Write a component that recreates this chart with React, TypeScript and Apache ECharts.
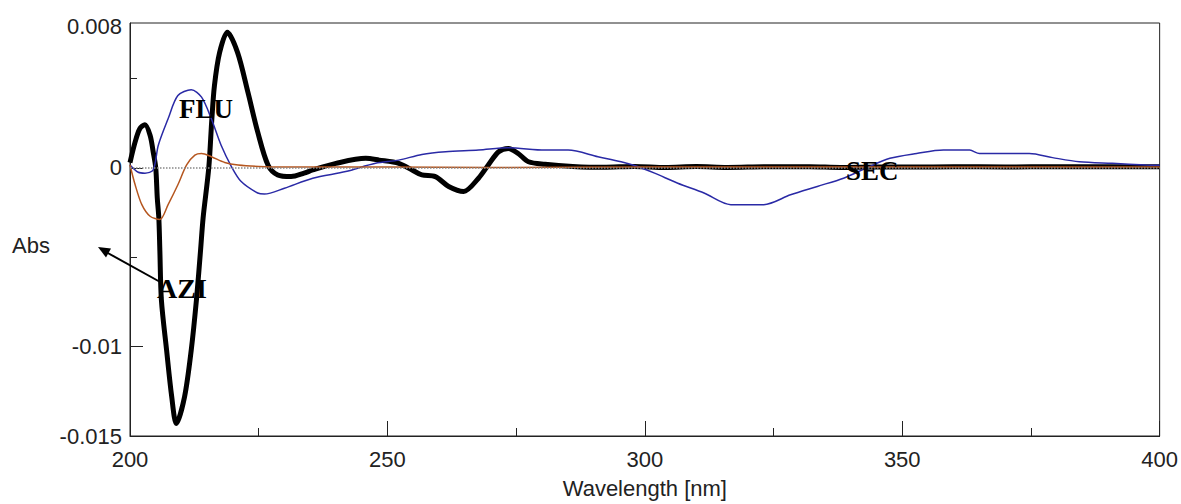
import React, { useEffect, useRef } from "react";
import * as echarts from "echarts";

// Wavelength (nm) / absorbance pairs
const aziWl = [200, 201, 201.9, 202.9, 203.9, 204.5, 205, 205.3, 205.6, 205.8, 206.1, 207.1, 208.1, 209, 210.6, 211.9, 212.9, 213.7, 214.2, 215.3, 215.9, 216.4, 217.4, 218.9, 220.9, 222.9, 224.8, 226.8, 228.7, 231.3, 233.8, 235.5, 240, 245.8, 248.4, 252.2, 254.8, 256.7, 259.3, 261.9, 264.8, 267.7, 269.6, 271.6, 273.5, 275.4, 277.4, 280.6, 286, 292, 298, 304, 310, 316, 324, 332, 338, 345, 352, 360, 370, 380, 390, 400];
const aziAbs = [0.00029, 0.00145, 0.00219, 0.00241, 0.00182, 0.0009, 0.0, -0.00169, -0.0028, -0.00463, -0.0074, -0.01018, -0.0128, -0.0143, -0.0128, -0.01018, -0.0074, -0.00463, -0.0028, 0.0, 0.00274, 0.00459, 0.00644, 0.00758, 0.00644, 0.00423, 0.00201, 0.00016, -0.0004, -0.00049, -0.0003, -0.00012, 0.00025, 0.00053, 0.00043, 0.00025, -0.00012, -0.0004, -0.00049, -0.00104, -0.00132, -0.00058, 0.00016, 0.0009, 0.00108, 0.0008, 0.00034, 0.0002, 0.00008, 0.00003, 0.00008, 0.00002, 0.00007, 0.00002, 0.00006, 0.00006, 0.00002, 0.00005, 0.00004, 0.00006, 0.00005, 0.00006, 0.00006, 0.00006];

const fluWl = [200, 201.6, 202.9, 204.5, 205.5, 207.4, 209.3, 211.9, 213.9, 215.8, 217.7, 219.7, 221.6, 224.8, 226.1, 230, 235.5, 241.9, 247.7, 252.2, 256.7, 261.3, 267.7, 273.5, 280.6, 285.1, 290.9, 295.4, 298.6, 301.9, 306.4, 311.5, 316.7, 323.1, 328.3, 333.5, 338.6, 343.1, 347.6, 352.8, 358, 363.1, 365, 374.7, 379.2, 384.4, 390.8, 397.3, 400];
const fluAbs = [0.00016, -0.00025, -0.0003, -0.00012, 0.00126, 0.00274, 0.00404, 0.00437, 0.00395, 0.00274, 0.00126, 0.00007, -0.00077, -0.00141, -0.00147, -0.00114, -0.00058, -0.00021, 0.00025, 0.00043, 0.00075, 0.0009, 0.00099, 0.00112, 0.00099, 0.00099, 0.00062, 0.00034, 0.00007, -0.0003, -0.00086, -0.00141, -0.00206, -0.00206, -0.00151, -0.00104, -0.00058, 0.0, 0.00053, 0.0008, 0.00099, 0.00099, 0.0008, 0.0008, 0.00057, 0.00034, 0.00025, 0.00016, 0.00014];

const secWl = [200, 201, 202.3, 203.9, 205.8, 207.4, 209.3, 211, 212.6, 213.9, 215.8, 218.4, 221, 225, 230, 250, 270, 300, 350, 400];
const secAbs = [0.00016, -0.00095, -0.00206, -0.00271, -0.00289, -0.00206, -0.00095, 0.00016, 0.00071, 0.0008, 0.00062, 0.0003, 0.00016, 0.00008, 0.00005, 0.00005, 0.00002, 0.00004, 0.00005, 0.00005];

const yLabelValues = [-0.015, -0.01, 0, 0.0079];
const yLabelTexts = ["-0.015", "-0.01", "0", "0.008"];
const yMinorTickValues = [-0.005, 0.005];
const yMajorTickValues = [-0.01, 0];

const pairs = (xs: number[], ys: number[]) => xs.map((x, i) => [x, ys[i]]);

export default function App() {
  const ref = useRef<HTMLDivElement>(null);
  useEffect(() => {
    if (!ref.current) return;
    const chart = echarts.init(ref.current, null, { renderer: "svg" });
    const labelFont = { fontFamily: "Liberation Sans", fontSize: 22, color: "#222" };
    chart.setOption({
      animation: false,
      backgroundColor: "#fff",
      grid: {
        left: 130,
        right: 17,
        top: 23,
        bottom: 64,
        show: true,
        borderColor: "#222",
        borderWidth: 1,
        backgroundColor: "transparent",
      },
      xAxis: {
        type: "value",
        min: 200,
        max: 400,
        interval: 50,
        name: "Wavelength [nm]",
        nameLocation: "middle",
        nameGap: 41,
        nameTextStyle: { ...labelFont },
        axisLine: { show: true, onZero: false, lineStyle: { color: "#222", width: 1 } },
        axisTick: { show: true, inside: true, length: 15, lineStyle: { color: "#222" } },
        minorTick: { show: true, splitNumber: 2, length: 8, lineStyle: { color: "#222" } },
        axisLabel: { ...labelFont, margin: 12 },
        splitLine: { show: false },
        minorSplitLine: { show: false },
      },
      yAxis: [
        {
          type: "value",
          min: -0.015,
          max: 0.0081,
          interval: 0.005,
          axisLine: { show: true, onZero: false, lineStyle: { color: "#222", width: 1 } },
          axisTick: {
            show: true,
            inside: true,
            length: 7,
            customValues: yMinorTickValues,
            lineStyle: { color: "#222" },
          },
          axisLabel: {
            ...labelFont,
            margin: 8,
            customValues: yLabelValues,
            formatter: (v: number) => {
              for (let i = 0; i < yLabelValues.length; i++) {
                if (Math.abs(v - yLabelValues[i]) < 1e-7) return yLabelTexts[i];
              }
              if (v > 0.0075) return "0.008";
              return "";
            },
          },
          splitLine: { show: false },
        },
        {
          type: "value",
          min: -0.015,
          max: 0.0081,
          interval: 0.005,
          position: "left",
          axisLine: { show: false, onZero: false },
          axisTick: {
            show: true,
            inside: true,
            length: 13,
            customValues: yMajorTickValues,
            lineStyle: { color: "#222" },
          },
          axisLabel: { show: false },
          splitLine: { show: false },
        },
      ],
      series: [
        {
          name: "AZI",
          type: "line",
          data: pairs(aziWl, aziAbs),
          showSymbol: false,
          symbol: "none",
          smooth: 0.3,
          lineStyle: { color: "#000", width: 5 },
          markLine: {
            silent: true,
            symbol: "none",
            label: { show: false },
            lineStyle: { color: "#888", type: "dotted", width: 1.5 },
            data: [{ yAxis: 0 }],
          },
        },
        {
          name: "FLU",
          type: "line",
          data: pairs(fluWl, fluAbs),
          showSymbol: false,
          symbol: "none",
          smooth: 0.3,
          lineStyle: { color: "#2a2aa6", width: 1.5 },
        },
        {
          name: "SEC",
          type: "line",
          data: pairs(secWl, secAbs),
          showSymbol: false,
          symbol: "none",
          smooth: 0.3,
          lineStyle: { color: "#b5561f", width: 1.5 },
        },
      ],
      graphic: [
        {
          type: "text",
          x: 12,
          y: 245,
          style: { text: "Abs", font: '22px "Liberation Sans"', fill: "#222", textAlign: "left", textVerticalAlign: "middle" },
        },
        {
          type: "text",
          x: 179,
          y: 109,
          z: 100,
          style: { text: "FLU", font: 'bold 27px "Liberation Serif"', fill: "#000", textAlign: "left", textVerticalAlign: "middle" },
        },
        {
          type: "text",
          x: 846,
          y: 171,
          z: 100,
          style: { text: "SEC", font: 'bold 27px "Liberation Serif"', fill: "#000", textAlign: "left", textVerticalAlign: "middle" },
        },
        {
          type: "text",
          x: 157,
          y: 288,
          z: 100,
          style: { text: "AZI", font: 'bold 28px "Liberation Serif"', fill: "#000", textAlign: "left", textVerticalAlign: "middle" },
        },
        {
          type: "line",
          z: 100,
          shape: { x1: 162, y1: 283, x2: 106, y2: 252 },
          style: { stroke: "#000", lineWidth: 2 },
        },
        {
          type: "polygon",
          z: 100,
          shape: { points: [[98, 247], [111, 248.5], [106, 257.5]] },
          style: { fill: "#000" },
        },
      ],
    });
    return () => chart.dispose();
  }, []);
  return (
    <div
      ref={ref}
      style={{ position: "fixed", left: 0, top: 0, width: 1181, height: 504, background: "#fff" }}
    />
  );
}
